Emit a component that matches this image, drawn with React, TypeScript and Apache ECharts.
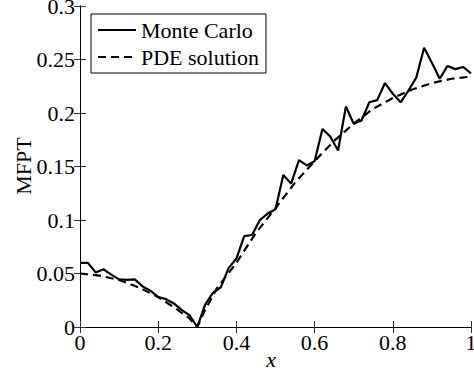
import React, { useEffect, useRef } from "react";
import * as echarts from "echarts";

const mcX = [0, 0.02, 0.04, 0.06, 0.08, 0.1, 0.12, 0.14, 0.16, 0.18, 0.2, 0.22, 0.24, 0.26, 0.28, 0.3, 0.32, 0.34, 0.36, 0.38, 0.4, 0.42, 0.44, 0.46, 0.48, 0.5, 0.52, 0.54, 0.56, 0.58, 0.6, 0.62, 0.64, 0.66, 0.68, 0.7, 0.72, 0.74, 0.76, 0.78, 0.8, 0.82, 0.84, 0.86, 0.88, 0.9, 0.92, 0.94, 0.96, 0.98, 1.0];
const mcY = [0.06, 0.06, 0.051, 0.054, 0.049, 0.0445, 0.044, 0.0445, 0.038, 0.034, 0.028, 0.026, 0.022, 0.016, 0.011, 0.0, 0.021, 0.032, 0.037, 0.055, 0.064, 0.085, 0.086, 0.1, 0.106, 0.11, 0.142, 0.134, 0.156, 0.151, 0.155, 0.185, 0.178, 0.165, 0.206, 0.19, 0.193, 0.21, 0.212, 0.228, 0.218, 0.21, 0.221, 0.233, 0.261, 0.247, 0.232, 0.244, 0.241, 0.243, 0.237];

const pdeX = [0, 0.05, 0.1, 0.15, 0.2, 0.25, 0.28, 0.3, 0.32, 0.35, 0.4, 0.45, 0.5, 0.55, 0.6, 0.65, 0.7, 0.75, 0.8, 0.85, 0.9, 0.95, 1.0];
const pdeY = [0.05, 0.048, 0.044, 0.037, 0.028, 0.016, 0.008, 0, 0.016, 0.036, 0.06, 0.088, 0.111, 0.135, 0.155, 0.174, 0.19, 0.204, 0.214, 0.222, 0.228, 0.232, 0.234];

const seriesNames = ["Monte Carlo", "PDE solution"];
const xLabel = "x";
const yLabel = "MFPT";

const FONT = "'Liberation Serif', 'Times New Roman', serif";

export default function App() {
  const ref = useRef<HTMLDivElement>(null);
  useEffect(() => {
    if (!ref.current) return;
    const chart = echarts.init(ref.current, null, { renderer: "svg" });
    const axisLine = { show: true, lineStyle: { color: "#000", width: 1 } };
    const tick = { show: true, inside: true, length: 6, lineStyle: { color: "#333", width: 1 } };
    const labelStyle = { fontFamily: FONT, fontSize: 22, color: "#000", fontWeight: "normal" };
    chart.setOption({
      animation: false,
      backgroundColor: "#fff",
      textStyle: { fontFamily: FONT, color: "#000" },
      grid: { left: 80, right: 3, top: 6, bottom: 48, containLabel: false, outerBoundsMode: "none" },
      legend: {
        data: seriesNames,
        orient: "vertical",
        left: 91,
        top: 14,
        padding: [5, 7, 5, 6],
        itemWidth: 38,
        itemHeight: 14,
        itemGap: 5,
        borderColor: "#000",
        borderWidth: 1,
        backgroundColor: "#fff",
        itemStyle: { opacity: 0 },
        textStyle: { ...labelStyle, lineHeight: 22 },
      },
      graphic: [
        {
          type: "text",
          x: 23,
          y: 166,
          rotation: Math.PI / 2,
          style: { text: yLabel, fontFamily: FONT, fontSize: 22, fill: "#000", align: "center", verticalAlign: "middle" },
        },
        {
          type: "text",
          x: 271,
          y: 359,
          style: { text: xLabel, fontFamily: FONT, fontSize: 22, fontStyle: "italic", fill: "#000", align: "center", verticalAlign: "middle" },
        },
      ],
      xAxis: [
        {
          type: "value",
          min: 0,
          max: 1,
          interval: 0.2,
          position: "bottom",
          axisLine,
          axisTick: tick,
          splitLine: { show: false },
          axisLabel: { ...labelStyle, margin: 4 },
        },
        {
          type: "value",
          min: 0,
          max: 1,
          interval: 0.2,
          position: "top",
          axisLine,
          axisTick: tick,
          splitLine: { show: false },
          axisLabel: { show: false },
        },
      ],
      yAxis: [
        {
          type: "value",
          min: 0,
          max: 0.3,
          interval: 0.05,
          position: "left",
          axisLine,
          axisTick: tick,
          splitLine: { show: false },
          axisLabel: { ...labelStyle, margin: 5 },
        },
        {
          type: "value",
          min: 0,
          max: 0.3,
          interval: 0.05,
          position: "right",
          axisLine,
          axisTick: tick,
          splitLine: { show: false },
          axisLabel: { show: false },
        },
      ],
      series: [
        {
          name: seriesNames[0],
          type: "line",
          data: mcX.map((x, i) => [x, mcY[i]]),
          symbol: "none",
          lineStyle: { color: "#000", width: 2.2, type: "solid" },
          itemStyle: { color: "#000" },
        },
        {
          name: seriesNames[1],
          type: "line",
          data: pdeX.map((x, i) => [x, pdeY[i]]),
          symbol: "none",
          lineStyle: { color: "#000", width: 2.2, type: [8, 5] },
          itemStyle: { color: "#000" },
        },
      ],
    });
    return () => chart.dispose();
  }, []);
  return <div ref={ref} style={{ width: 474, height: 375, position: "absolute", left: 0, top: 0 }} />;
}
